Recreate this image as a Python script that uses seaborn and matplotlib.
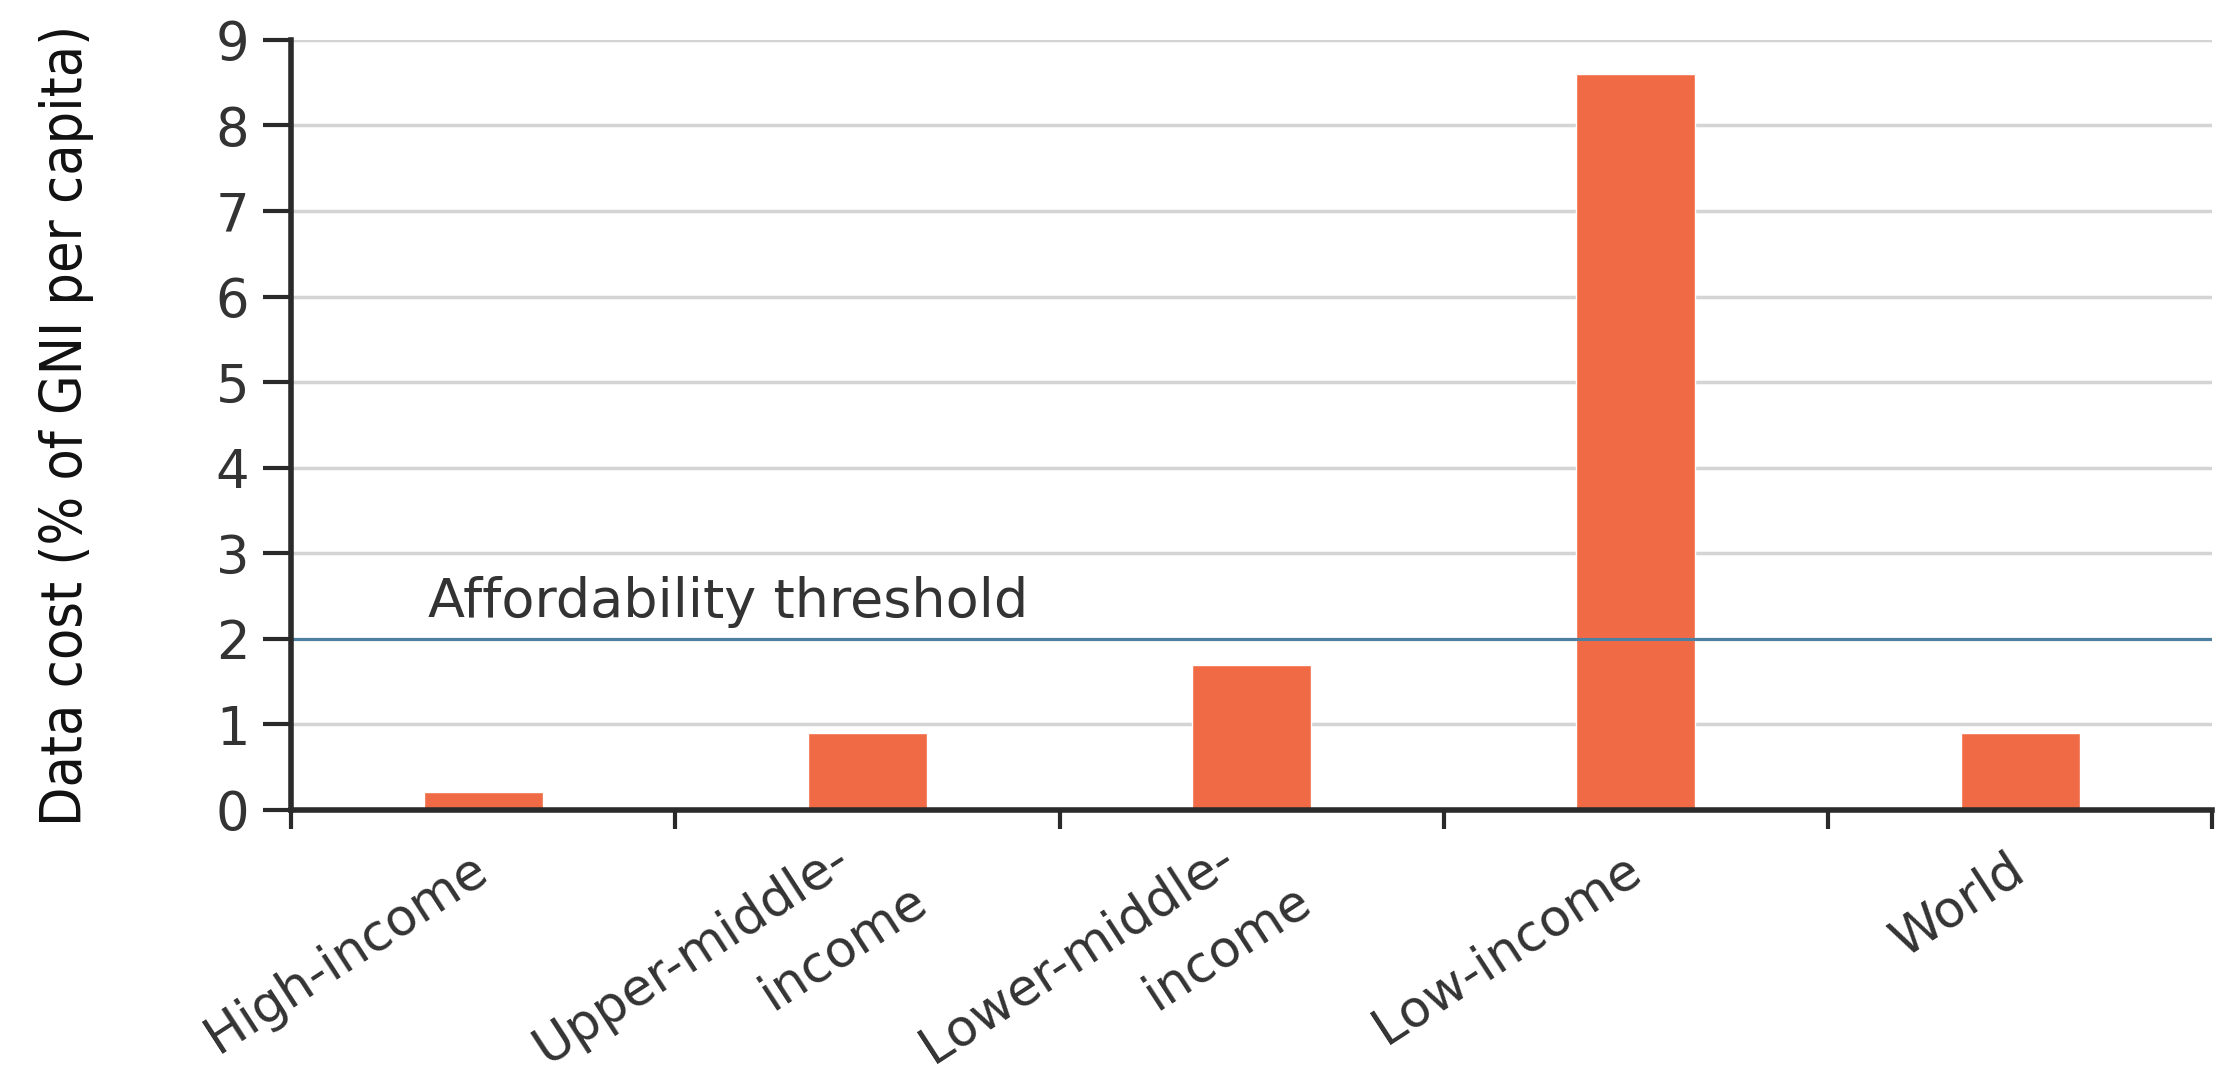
import numpy as np
import pandas as pd
import seaborn as sns
import matplotlib.pyplot as plt

# values
groups = ['High-income', 'Upper-middle-income', 'Lower-middle-income', 'Low-income', 'World']
label_line1 = ['High-income', 'Upper-middle-', 'Lower-middle-', 'Low-income', 'World']
label_line2 = ['', 'income', 'income', '', '']
data_cost = [0.21, 0.9, 1.7, 8.6, 0.9]
threshold = 2.0
threshold_label = 'Affordability threshold'
y_ticks = list(range(0, 10))

df = pd.DataFrame({'group': groups, 'cost': data_cost})

sns.set_style('white')
plt.rcParams['font.family'] = ['DejaVu Sans']

fig = plt.figure(figsize=(22.29, 10.91), dpi=100)
ax = fig.add_axes([0.1306, 0.2576, 0.8619, 0.7058])

sns.barplot(data=df, x='group', y='cost', color='#F06A45', saturation=1,
            width=0.31, ax=ax, zorder=2)

ax.set_xlim(-0.5, len(groups) - 0.5)
ax.set_ylim(0, 9)

# grid + threshold
ax.set_yticks(y_ticks)
ax.yaxis.grid(True, color='#d4d4d4', lw=2.5)
ax.set_axisbelow(True)
ax.axhline(threshold, color='#4d7fa0', lw=2.2, zorder=3)
ax.text(-0.143, threshold + 0.25, threshold_label, fontsize=39,
        color='#333333', va='baseline', ha='left')

# spines
sns.despine(ax=ax)
for s in ['left', 'bottom']:
    ax.spines[s].set_color('#2a2a2a')
    ax.spines[s].set_linewidth(4)
    ax.spines[s].set_zorder(4)

# y ticks
ax.tick_params(axis='y', left=True, length=20, width=3, color='#2a2a2a', pad=10,
               labelsize=38, labelcolor='#333333')

# x: ticks at category boundaries, labels drawn at bar centres
ax.set_xticks(range(len(groups)))
ax.set_xticklabels([])
ax.set_xticks(np.arange(-0.5, len(groups), 1), minor=True)
ax.tick_params(axis='x', which='major', bottom=True, length=0)
ax.tick_params(axis='x', which='minor', bottom=True, length=14, width=3,
               color='#2a2a2a')
ax.set_xlabel('')

rot = 33
pad = 40
lab_kw = dict(xycoords=('data', 'axes fraction'), textcoords='offset points',
              rotation=rot, ha='right', va='center', rotation_mode='anchor',
              fontsize=37, color='#333333', annotation_clip=False)
for i in range(len(groups)):
    if label_line2[i]:
        ax.annotate(label_line1[i], xy=(i, 0), xytext=(-16, -pad + 8), **lab_kw)
        ax.annotate(label_line2[i], xy=(i, 0), xytext=(39, -pad - 22), **lab_kw)
    else:
        ax.annotate(label_line1[i], xy=(i, 0), xytext=(0, -pad), **lab_kw)

ax.set_ylabel('Data cost (% of GNI per capita)', fontsize=41, color='#111111',
              family='DejaVu Sans', fontstretch='condensed')
ax.yaxis.set_label_coords(-0.1025, 0.5)

fig.savefig('out.png', dpi=100)
